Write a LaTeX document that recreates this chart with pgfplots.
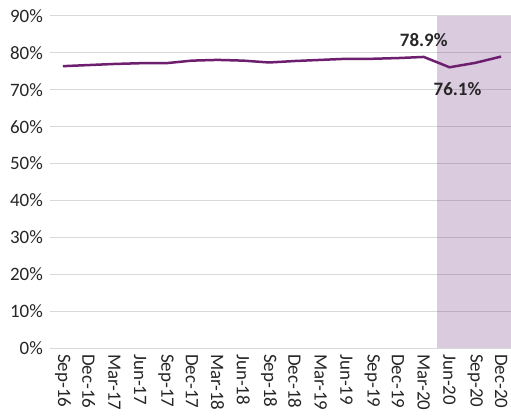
\documentclass[border=0pt]{standalone}
\usepackage{pgfplots}
\pgfplotsset{compat=1.18}
\usepackage{fontspec}
\setmainfont{Carlito}
\definecolor{linepurple}{RGB}{110,30,110}
\definecolor{shadepurple}{RGB}{112,48,128}
\definecolor{gridgray}{RGB}{217,217,217}
\definecolor{textgray}{RGB}{38,38,38}
\begin{document}
\begin{tikzpicture}
\begin{axis}[
  name=ax,
  scale only axis,
  width=464bp, height=332bp,
  xmin=-0.5, xmax=17.5,
  ymin=0, ymax=90,
  axis line style={draw=none},
  major tick length=0pt,
  ymajorgrids,
  grid style={gridgray, line width=1bp},
  ytick={0,10,...,90},
  yticklabel={\pgfmathprintnumber{\tick}\%},
  xtick={0,...,17},
  xticklabels={Sep-16,Dec-16,Mar-17,Jun-17,Sep-17,Dec-17,Mar-18,Jun-18,Sep-18,Dec-18,Mar-19,Jun-19,Sep-19,Dec-19,Mar-20,Jun-20,Sep-20,Dec-20},
  xticklabel style={rotate=-90, anchor=west, inner sep=0pt, xshift=6bp},
  yticklabel style={anchor=east, inner sep=0pt, xshift=-7bp},
  tick label style={font=\fontsize{19}{22}\selectfont, text=textgray},
  /pgf/number format/assume math mode=true,
  clip=false,
]
\addplot[draw=none, fill=shadepurple, fill opacity=0.25] coordinates {(14.5,0) (14.5,90) (17.5,90) (17.5,0)} -- cycle;
\addplot[linepurple, line width=2.5bp] coordinates {
(0,76.4) (1,76.7) (2,77.0) (3,77.2) (4,77.2) (5,77.9) (6,78.1) (7,77.9) (8,77.4) (9,77.8) (10,78.1) (11,78.4) (12,78.4) (13,78.6) (14,78.9) (15,76.1) (16,77.3) (17,79.0)};
\node[anchor=base, yshift=10bp, font=\fontsize{19}{22}\selectfont\bfseries, text=textgray] at (axis cs:14,78.9) {78.9\%};
\node[anchor=base, yshift=-28bp, xshift=8bp, font=\fontsize{19}{22}\selectfont\bfseries, text=textgray] at (axis cs:15,76.1) {76.1\%};
\end{axis}
\pgfresetboundingbox
\path ([xshift=-50bp,yshift=-68bp]ax.south west) rectangle ([xshift=-3bp,yshift=16bp]ax.north east);
\end{tikzpicture}
\end{document}
